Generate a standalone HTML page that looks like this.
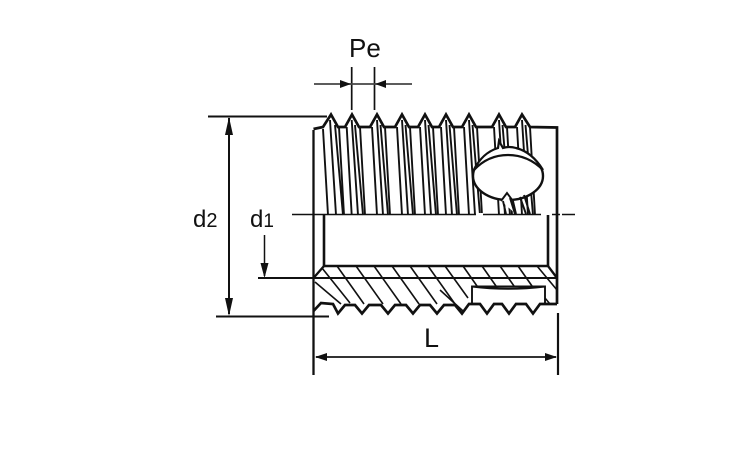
<!DOCTYPE html>
<html><head><meta charset="utf-8"><style>
html,body{margin:0;padding:0;background:#fff}
svg{display:block}
text{font-family:"Liberation Sans",sans-serif;fill:#111}
</style></head><body>
<svg width="750" height="450" viewBox="0 0 750 450" xmlns="http://www.w3.org/2000/svg">
<rect width="750" height="450" fill="#fff"/>
<!-- thread lines -->
<g stroke="#111" fill="none" stroke-width="1.900">
<path d="M323 129L328 215M330 120L336 215M335 125L343 215M339 127L344 215"/>
<path d="M346.700 127L351.700 215M351.700 120L358 215M355 125L363 215M360 127L365 215"/>
<path d="M372 127L377 215M377 120L383 215M380.500 125L388 215M385 127L390 215"/>
<path d="M397 127L402 215M402 120L408 215M405.500 125L413 215M410 127L415 215"/>
<path d="M420 127L425 215M425 120L431 215M428.500 125L436 215M433 127L438 215"/>
<path d="M441 127L446 215M446 120L452 215M449.500 125L457 215M454 127L459 215"/>
<path d="M464 127L469 215M469 120L475 215M472.500 125L480 215M477 127L482 215"/>
<path d="M494 127L499 215M499 120L505 215M502.500 125L510 215M507 127L512 215"/>
<path d="M517 127L522 215M522 120L528 215M525.500 125L533 215M530 127L535 215"/>
</g>
<!-- cross hole -->
<ellipse cx="508" cy="176" rx="35" ry="24" fill="#fff" stroke="#111" stroke-width="2.400"/>
<path d="M474 170Q482 153 498 148L499 141L503 148Q509 146 516 148Q532 152 543 170Q528 155 508 155Q488 155 474 170Z" fill="#fff" stroke="#111" stroke-width="2.200"/>
<path d="M501 201L507 193L513 201L516 214M503 201L506 214M510 198L515 214M524 195L530 214M520 197L526 214" fill="#fff" stroke="#111" stroke-width="1.900"/>
<!-- top profile -->
<path d="M313.500 129L323 127L331 114.500L338 127L345 127L352 114.500L359 127L370 127L377 114.500L384 127L395 127L402 114.500L409 127L418 127L425 114.500L432 127L439 127L446 114.500L453 127L462 127L469 114.500L476 127L492 127L499 114.500L506 127L515 127L522 114.500L530 127L557 127.500L557 304" fill="none" stroke="#111" stroke-width="2.700" stroke-linejoin="miter"/>
<!-- centre line -->
<path d="M292 214.500H476M483 214.500H541M552 214.500H560M562 214.500H575" stroke="#111" stroke-width="1.500" fill="none"/>
<path d="M476 214.500H483" stroke="#fff" stroke-width="3"/>
<path d="M541 214.500H546" stroke="#fff" stroke-width="3"/>
<!-- body -->
<path d="M313.500 130V375" fill="none" stroke="#111" stroke-width="2.300"/>
<path d="M324 215V266H548V215" fill="none" stroke="#111" stroke-width="2.600"/>
<path d="M313.500 278L324 266M548 266L557 278" stroke="#111" stroke-width="2.300" fill="none"/>
<!-- hatch -->
<g stroke="#111" stroke-width="1.600" fill="none">
<path d="M322 268L350 303M337 266L364 304M356 266L383 304M374 266L401 304M392 266L419 304M410 266L437 304M428 266L455 304"/>
<path d="M445 266L468 298M463 266L477 286M482 266L496 286M500 266L514 286M518 266L532 286M537 266L557 290"/>
<path d="M315 282L341 304"/>
<path d="M440 290L463 311"/>
</g>
<!-- pocket -->
<path d="M472 304V286.500H545V303M472 286.500Q508 291 545 286.500" fill="#fff" stroke="#111" stroke-width="1.900"/>
<path d="M545 298L550 304" stroke="#111" stroke-width="1.500"/>
<path d="M258 278H557" stroke="#111" stroke-width="2"/>
<!-- bottom profile -->
<path d="M313.500 311L321 303L333 304L338 313.500L345 305L355 305L362 313.500L369 305L381 305L388 313.500L395 305L406 305L413 313.500L420 305L430 305L437 313.500L444 305L455 305L462 313.500L469 304L480 304L487 313.500L494 304L502 304L509 313.500L516 304L526 304L533 313.500L540 304L557 304" fill="none" stroke="#111" stroke-width="2.700"/>
<!-- right extension -->
<path d="M558 313V375" stroke="#111" stroke-width="2.200"/>
<!-- d2 / d1 -->
<path d="M208 116.500H327M216 316.500H329" stroke="#111" stroke-width="2"/>
<path d="M229 118V314" stroke="#111" stroke-width="2"/>
<path d="M229 117L225 135H233ZM229 316L225 298H233Z" fill="#111"/>
<path d="M264.500 235V276" stroke="#111" stroke-width="1.500"/>
<path d="M264.500 278L260.500 263H268.500Z" fill="#111"/>
<!-- L -->
<path d="M316 357H556" stroke="#333" stroke-width="2"/>
<path d="M315 357L327 353V361ZM557 357L545 353V361Z" fill="#111"/>
<!-- Pe -->
<path d="M351.700 67V110M374.500 67V110" stroke="#111" stroke-width="1.700"/>
<path d="M314 84H412" stroke="#444" stroke-width="1.700"/>
<path d="M351 84L340 80V88ZM375 84L386 80V88Z" fill="#111"/>
<!-- labels -->
<text x="349" y="57" font-size="26">Pe</text>
<text x="193" y="227" font-size="24">d<tspan font-size="20">2</tspan></text>
<text x="250" y="227" font-size="24">d<tspan font-size="19">1</tspan></text>
<text x="424" y="347" font-size="27">L</text>
</svg>
</body></html>
